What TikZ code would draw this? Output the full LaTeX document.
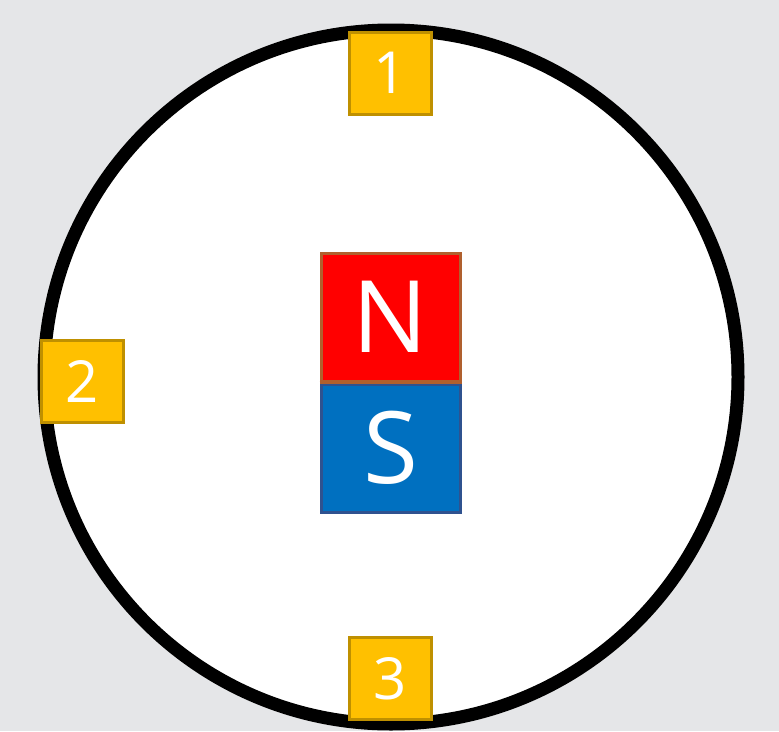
\documentclass[tikz,border=0pt]{standalone}
\usepackage{fontspec}
\setmainfont{Open Sans}
\usepackage{tikz}
\usetikzlibrary{positioning}
\definecolor{bggray}{HTML}{E5E6E8}
\definecolor{tagyellow}{HTML}{FFC000}
\definecolor{tagedge}{HTML}{BF9000}
\definecolor{northred}{HTML}{FF0000}
\definecolor{northedge}{HTML}{B0602E}
\definecolor{southblue}{HTML}{0070C0}
\definecolor{southedge}{HTML}{2F528F}

\begin{document}
\begin{tikzpicture}[
x=1pt,y=-1pt,
tag/.style={draw=tagedge,fill=tagyellow,line width=3pt,
minimum size=82pt,inner sep=0pt,text=white,
font=\fontsize{58}{60}\selectfont},
pole/.style={line width=3pt,minimum width=139pt,minimum height=128pt,
inner sep=0pt,text=white,font=\fontsize{100}{100}\selectfont}
]
\fill[bggray] (0,0) rectangle (779,731);
\useasboundingbox (0,0) rectangle (779,731);

\node[draw=black,fill=white,circle,line width=13pt,minimum size=694pt,
inner sep=0pt] (ring) at (391,377) {};

\node[pole,fill=northred,draw=northedge] (north) at (390.5,317) {N};
\node[pole,fill=southblue,draw=southedge,below=0pt of north] (south) {S};
% redraw the north edge over the south one
\draw[northedge,line width=3pt] (north.south west) -- (north.south east);

\node[tag] (tag1) at (390.5,73) {1};
\node[tag] (tag2) at (82.5,381) {2};
\node[tag] (tag3) at (390.5,678.5) {3};
\end{tikzpicture}
\end{document}
